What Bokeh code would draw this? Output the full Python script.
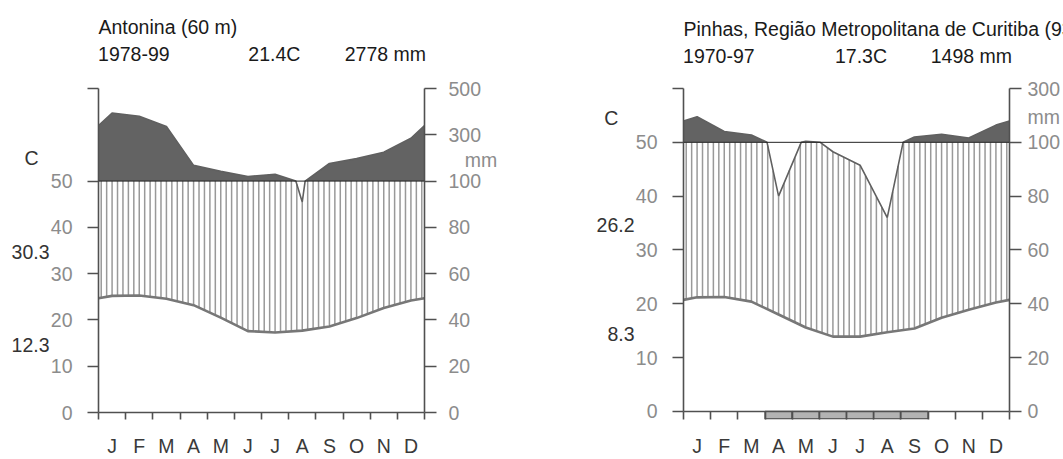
import numpy as np
from bokeh.plotting import figure
from bokeh.models import LinearAxis, FixedTicker, Range1d, Span, Spacer
from bokeh.layouts import row
from bokeh.embed import file_html
from bokeh.resources import INLINE

# ---------------- data ----------------
months = ["J", "F", "M", "A", "M", "J", "J", "A", "S", "O", "N", "D"]

ant_name = "Antonina (60 m)"
ant_period = "1978-99"
ant_mean = "21.4C"
ant_total = "2778 mm"
ant_tmax = "30.3"
ant_tmin = "12.3"
ant_temp = [25.2, 25.3, 24.6, 23.2, 20.5, 17.6, 17.3, 17.7, 18.6, 20.4, 22.6, 24.2]
ant_prec = [394, 380, 336, 168, 142, 120, 129, 91, 176, 197, 225, 285]
ant_frost = [0, 0, 0, 0, 0, 0, 0, 0, 0, 0, 0, 0]

pin_name = "Pinhas, Região Metropolitana de Curitiba (930 m)"
pin_period = "1970-97"
pin_mean = "17.3C"
pin_total = "1498 mm"
pin_tmax = "26.2"
pin_tmin = "8.3"
pin_temp = [21.2, 21.25, 20.4, 18.0, 15.6, 13.9, 13.9, 14.7, 15.4, 17.4, 18.9, 20.25]
pin_prec = [195, 140, 127, 80, 104, 96.5, 91.5, 72, 120, 130, 116, 164]
pin_frost = [0, 0, 0, 1, 1, 1, 1, 1, 1, 0, 0, 0]

FONT = "Liberation Sans"
FSPX = 19.5
FS = f"{FSPX}px"
GREY_TXT = "#8c8c8c"
AXIS_C = "#505050"
NB = "\u00a0"
MW = 27.5  # px per month (frame 330 px / 12)

CW = {'-': 0.333, '.': 0.278, ' ': 0.278, 'C': 0.722, 'm': 0.833, 'A': 0.667,
      'n': 0.556, 't': 0.278, 'o': 0.556, 'i': 0.222, 'a': 0.556, '(': 0.333,
      ')': 0.333, 'P': 0.667, 'h': 0.556, 's': 0.5, ',': 0.278, 'R': 0.722,
      'e': 0.556, 'g': 0.556, 'ã': 0.556, 'M': 0.833, 'r': 0.333, 'p': 0.556,
      'l': 0.222, 'd': 0.556, 'u': 0.556, 'b': 0.556, 'c': 0.5}


def twidth(s):
    return sum(0.556 if ch.isdigit() else CW.get(ch, 0.556) for ch in s) * FSPX


def pscale(p):
    p = np.asarray(p, float)
    return np.where(p <= 100, p / 2.0, 50 + (p - 100) / 20.0)


def pinv(u):
    return 2 * u if u <= 50 else 100 + 20 * (u - 50)


def cyc(vals):
    v = np.asarray(vals, float)
    end = (v[0] + v[-1]) / 2.0
    x = np.concatenate([[0.0], np.arange(12) + 0.5, [12.0]])
    y = np.concatenate([[end], v, [end]])
    return x, y


def prec_curve(vals):
    x, p = cyc(vals)
    xs, ps = [x[0]], [p[0]]
    for i in range(len(x) - 1):
        a, b = p[i], p[i + 1]
        if (a - 100) * (b - 100) < 0:
            t = (100 - a) / (b - a)
            xs.append(x[i] + t * (x[i + 1] - x[i]))
            ps.append(100.0)
        xs.append(x[i + 1])
        ps.append(b)
    return np.array(xs), pscale(ps)


def text_axis(labels, standoff, color):
    ticks = [round(t, 4) for t in labels]
    return LinearAxis(ticker=FixedTicker(ticks=ticks, minor_ticks=[]),
                      major_label_overrides={round(t, 4): s for t, s in labels.items()},
                      axis_line_color=None, major_tick_line_color=None,
                      minor_tick_line_color=None, major_tick_in=0,
                      major_tick_out=0, major_label_standoff=standoff,
                      major_label_text_font=FONT, major_label_text_font_size=FS,
                      major_label_text_color=color)


def panel(temp, prec, frost, name, period, mean, total, tmax, tmin,
          ymax, width, lay):
    p = figure(width=width, height=459, x_range=Range1d(0, 12),
               y_range=Range1d(-1.5, ymax), output_backend="svg",
               toolbar_location=None, min_border_left=98,
               min_border_right=width - 98 - 330, min_border_top=lay["top"],
               min_border_bottom=37)
    p.grid.visible = False
    p.outline_line_color = None
    p.background_fill_color = "white"
    p.border_fill_color = "white"

    tx, ty = cyc(temp)
    px, py = prec_curve(prec)

    # wet excess above 100 mm
    p.varea(x=px, y1=np.full(len(px), 50.0), y2=np.maximum(py, 50.0),
            fill_color="#636363")

    # humid hatching
    hx = np.arange(60) * 0.2 + 0.1
    hb = np.interp(hx, tx, ty)
    ht = np.minimum(np.interp(hx, px, py), 50.0)
    m = ht > hb
    p.segment(x0=hx[m], y0=hb[m], x1=hx[m], y1=ht[m],
              line_color="#999999", line_width=1.5)

    p.add_layout(Span(location=50, dimension="width", line_color="#222222",
                      line_width=1))
    p.line(px, py, line_color="#606060", line_width=1.6)
    p.line(tx, ty, line_color="#777777", line_width=2.6)
    p.add_layout(Span(location=0, dimension="width", line_color=AXIS_C,
                      line_width=1.6))

    fi = [i for i, f in enumerate(frost) if f]
    if fi:
        p.quad(left=fi, right=[i + 1 for i in fi], bottom=-1.4, top=0,
               fill_color="#b3b3b3", line_color="#444444", line_width=1.2)

    # month axis
    xa = p.xaxis[0]
    xa.ticker = FixedTicker(ticks=[i + 0.5 for i in range(12)],
                            minor_ticks=list(range(13)))
    xa.major_label_overrides = {i + 0.5: months[i] for i in range(12)}
    xa.axis_line_color = None
    xa.major_tick_in = 0
    xa.major_tick_out = 0
    xa.minor_tick_in = lay["mtick"]
    xa.minor_tick_out = 0
    xa.minor_tick_line_color = AXIS_C
    xa.minor_tick_line_width = 1.6
    xa.major_label_text_font = FONT
    xa.major_label_text_font_size = FS
    xa.major_label_text_color = "#3a3a3a"
    xa.major_label_standoff = 15

    # temperature axis (left)
    lticks = [0, 10, 20, 30, 40, 50, ymax]
    ya = p.yaxis[0]
    ya.ticker = FixedTicker(ticks=lticks, minor_ticks=[])
    ya.major_label_overrides = {ymax: ""}
    ya.bounds = (0, ymax)
    ya.axis_line_color = AXIS_C
    ya.axis_line_width = 1.6
    ya.major_tick_line_color = AXIS_C
    ya.major_tick_line_width = 1.6
    ya.major_tick_in = 0
    ya.major_tick_out = 11
    ya.minor_tick_line_color = None
    ya.major_label_text_font = FONT
    ya.major_label_text_font_size = FS
    ya.major_label_text_color = GREY_TXT
    ya.major_label_standoff = 15
    p.add_layout(text_axis({lay["cy"]: "C" + NB * lay["cpad"],
                            lay["vmax"]: tmax, lay["vmin"]: tmin},
                           lay["vstand"], "#333333"), "left")

    # precipitation axis (right)
    rticks = list(range(0, ymax + 1, 10))
    ra = LinearAxis(ticker=FixedTicker(ticks=rticks, minor_ticks=[]),
                    major_label_overrides={t: "" for t in rticks},
                    bounds=(0, ymax), axis_line_color=AXIS_C,
                    axis_line_width=1.6, major_tick_line_color=AXIS_C,
                    major_tick_line_width=1.6, major_tick_in=0,
                    major_tick_out=12, major_label_standoff=0,
                    minor_tick_line_color=None)
    p.add_layout(ra, "right")
    rl = {t: str(int(pinv(t))) for t in rticks}
    rl[lay["my"]] = NB * lay["mpad"] + "mm"
    p.add_layout(text_axis(rl, lay["rstand"], GREY_TXT), "right")

    # header: station name as title, second line via an axis above the frame
    p.title.text = name
    p.title.align = "left"
    p.title.text_font = FONT
    p.title.text_font_size = FS
    p.title.text_font_style = "normal"
    p.title.text_color = "#1a1a1a"
    p.title.standoff = lay["s1"]
    line2 = {twidth(period) / 2 / MW: period,
             (lay["meanx"] + twidth(mean) / 2) / MW: mean,
             (lay["totx"] - twidth(total) / 2) / MW: total}
    p.add_layout(text_axis(line2, lay["s2"], "#1a1a1a"), "above")
    return p


left = panel(ant_temp, ant_prec, ant_frost, ant_name, ant_period, ant_mean,
             ant_total, ant_tmax, ant_tmin, 70, 500,
             dict(top=88, mtick=7, cy=55.0, cpad=2, vstand=-2, vmax=34.7,
                  vmin=14.56, my=54.6, mpad=3, rstand=12, meanx=152,
                  totx=331, s2=24, s1=3))
right = panel(pin_temp, pin_prec, pin_frost, pin_name, pin_period, pin_mean,
              pin_total, pin_tmax, pin_tmin, 60, 478,
              dict(top=86, mtick=8, cy=54.5, cpad=3, vstand=-2, vmax=34.56,
                   vmin=14.4, my=54.7, mpad=0, rstand=6, meanx=153.7,
                   totx=332, s2=22, s1=3))

layout = row(left, Spacer(width=85, height=459), right)
open("out.html", "w").write(file_html(layout, INLINE))
